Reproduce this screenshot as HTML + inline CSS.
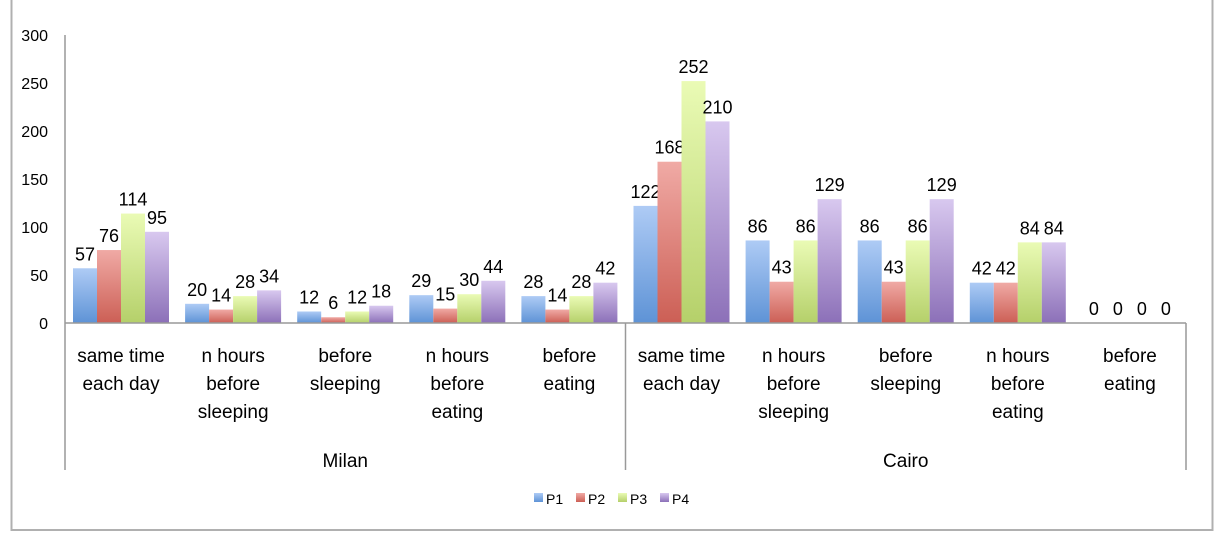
<!DOCTYPE html>
<html><head><meta charset="utf-8"><style>
body{margin:0;background:#fff;font-family:"Liberation Sans",sans-serif}
</style></head><body>
<svg id="chart" width="1224" height="540" xmlns="http://www.w3.org/2000/svg" font-family="Liberation Sans, sans-serif">
<defs>
<linearGradient id="g1" x1="0" y1="0" x2="0" y2="1"><stop offset="0" stop-color="#aecbf5"/><stop offset="1" stop-color="#5e93d6"/></linearGradient>
<linearGradient id="g2" x1="0" y1="0" x2="0" y2="1"><stop offset="0" stop-color="#f0aaa5"/><stop offset="1" stop-color="#cc5f55"/></linearGradient>
<linearGradient id="g3" x1="0" y1="0" x2="0" y2="1"><stop offset="0" stop-color="#eafbb5"/><stop offset="1" stop-color="#b5d06a"/></linearGradient>
<linearGradient id="g4" x1="0" y1="0" x2="0" y2="1"><stop offset="0" stop-color="#d8c8ef"/><stop offset="1" stop-color="#8c70b8"/></linearGradient>
</defs>
<rect x="11.5" y="-2" width="1201" height="532" fill="none" stroke="#b0b0b0" stroke-width="2"/>
<g id="plot"></g>
</svg>
<script>
const categories=["same time|each day","n hours|before|sleeping","before|sleeping","n hours|before|eating","before|eating","same time|each day","n hours|before|sleeping","before|sleeping","n hours|before|eating","before|eating"];
const groups=["Milan","Cairo"];
const seriesNames=["P1","P2","P3","P4"];
const p1=[57,20,12,29,28,122,86,86,42,0];
const p2=[76,14,6,15,14,168,43,43,42,0];
const p3=[114,28,12,30,28,252,86,86,84,0];
const p4=[95,34,18,44,42,210,129,129,84,0];
const yTicks=[0,50,100,150,200,250,300];
const series=[p1,p2,p3,p4];
const NS="http://www.w3.org/2000/svg";
const g=document.getElementById('plot');
const X0=65,X1=1186,Y0=323,YS=288/300;
const cw=(X1-X0)/categories.length;
const y=v=>Y0-v*YS;
function el(t,a,txt){const e=document.createElementNS(NS,t);for(const k in a)e.setAttribute(k,a[k]);if(txt!==undefined)e.textContent=txt;g.appendChild(e);return e;}
yTicks.forEach(t=>{const e=el('text',{x:48,y:y(t)+6,'text-anchor':'end','font-size':16,fill:'#000'},t);

});
series.forEach((s,si)=>{s.forEach((v,ci)=>{
const bx=X0+ci*cw+8+si*24;
const r=el('rect',{x:bx,y:y(v),width:24,height:v*YS,fill:`url(#g${si+1})`});


const t=el('text',{x:bx+12,y:y(v)-8,'text-anchor':'middle','font-size':18,fill:'#000'},v);


});});
const ax=el('line',{x1:X0,y1:35,x2:X0,y2:Y0,stroke:'#999','stroke-width':1.5});


const xa=el('line',{x1:X0,y1:Y0,x2:X1,y2:Y0,stroke:'#999','stroke-width':1.5});


[X0,X0+5*cw,X1].forEach(x=>{const l=el('line',{x1:x,y1:Y0,x2:x,y2:470,stroke:'#999','stroke-width':1.5});

});
categories.forEach((c,ci)=>{c.split('|').forEach((ln,li)=>{
const t=el('text',{x:X0+ci*cw+cw/2,y:362+li*28,'text-anchor':'middle','font-size':19,fill:'#000'},ln);

});});
groups.forEach((gn,gi)=>{const t=el('text',{x:X0+(gi*5+2.5)*cw,y:467,'text-anchor':'middle','font-size':19,fill:'#000'},gn);

});
seriesNames.forEach((n,i)=>{const lx=534+i*42;
const r=el('rect',{x:lx,y:493,width:9,height:9,fill:`url(#g${i+1})`});


const t=el('text',{x:lx+12,y:504,'font-size':14,fill:'#000'},n);

});
</script>
</body></html>
